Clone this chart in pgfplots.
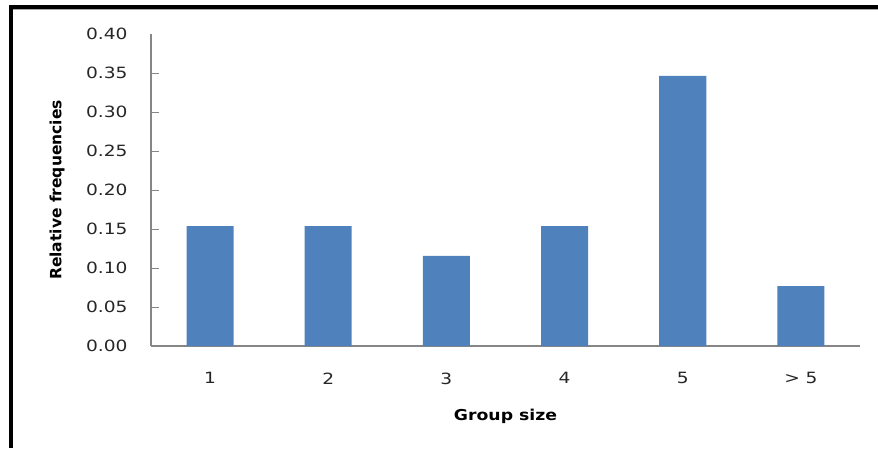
\documentclass[border=0pt]{standalone}
\usepackage{fontspec}
\usepackage{pgfplots}
\pgfplotsset{compat=1.18}
\newfontfamily\tickfont{DejaVu Sans}[FakeStretch=1.2]
\newfontfamily\labfont{DejaVu Sans}[FakeStretch=1.15]
\newfontfamily\ylabfont{DejaVu Sans}
\definecolor{barblue}{HTML}{4F81BD}
\definecolor{axgray}{HTML}{868686}
\begin{document}
\begin{tikzpicture}[x=1pt,y=1pt]
\useasboundingbox (-151,-102) rectangle (727,346);
\fill[black] (-142,-102) rectangle (-138,341);
\fill[black] (-142,337) rectangle (727,341);
\fill[gray!70] (-138,336) rectangle (727,337);
\begin{axis}[
  at={(0,0)}, anchor=south west,
  scale only axis, width=709pt, height=312pt,
  xmin=-0.5, xmax=5.5, ymin=0, ymax=0.4,
  axis lines*=left,
  axis line style={draw=axgray, line width=1.3pt},
  ytick={0,0.05,...,0.36},
  extra y ticks={0.4},
  extra y tick style={major tick length=0pt},
  xtick={0,1,2,3,4,5},
  xticklabels={1,2,3,4,5,{> 5}},
  tick align=inside,
  major tick length=8pt,
  ytick style={draw=axgray, line width=1pt},
  xtick style={draw=none},
  /pgf/number format/assume math mode=true,
  /pgf/number format/fixed,
  /pgf/number format/fixed zerofill,
  /pgf/number format/precision=2,
  ticklabel style={font=\tickfont\fontsize{15.5}{18}\selectfont, text=black!85},
  yticklabel style={xshift=-20pt},
  xticklabel style={yshift=-23pt},
  every axis x label/.style={at={(axis description cs:0.5,0)}, anchor=center, yshift=-70pt, font=\labfont\bfseries\fontsize{15}{18}\selectfont},
  every axis y label/.style={at={(axis description cs:0,0.5)}, anchor=center, xshift=-94pt, rotate=90, font=\ylabfont\bfseries\fontsize{15.5}{18}\selectfont},
  xlabel={Group size},
  ylabel={Relative frequencies},
  clip=false,
]
\addplot[ybar, bar width=47pt, bar shift=0pt, fill=barblue, draw=none]
  coordinates {(0,0.1538) (1,0.1538) (2,0.1154) (3,0.1538) (4,0.3462) (5,0.0769)};
\end{axis}
\end{tikzpicture}
\end{document}
